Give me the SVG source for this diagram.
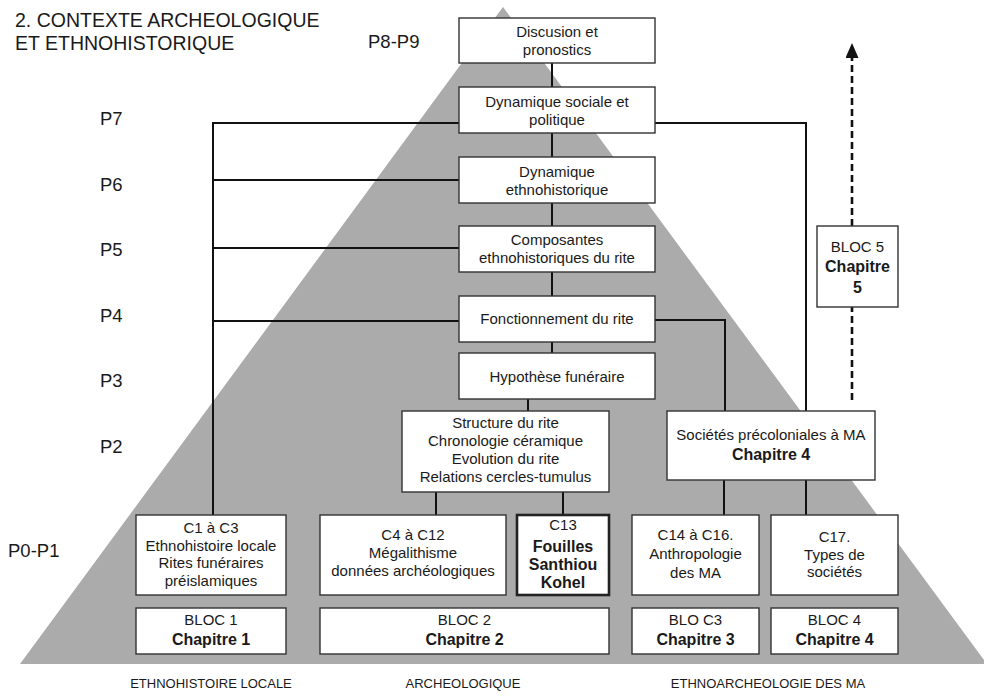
<svg xmlns="http://www.w3.org/2000/svg" width="984" height="697" viewBox="0 0 984 697">
  <style>
    .box { fill: #ffffff; stroke: #333333; stroke-width: 1.4; }
    .thick { stroke: #222222; stroke-width: 2.6; }
    .t { font-family: "Liberation Sans", Arial, sans-serif; font-size: 15px; fill: #1a1a1a; text-anchor: middle; }
    .b { font-family: "Liberation Sans", Arial, sans-serif; font-size: 16px; font-weight: bold; fill: #1a1a1a; text-anchor: middle; }
    .lvl { font-family: "Liberation Sans", Arial, sans-serif; font-size: 18.5px; fill: #1a1a1a; }
    .head { font-family: "Liberation Sans", Arial, sans-serif; font-size: 19.5px; fill: #1a1a1a; }
    .foot { font-family: "Liberation Sans", Arial, sans-serif; font-size: 13px; fill: #1a1a1a; text-anchor: middle; }
    .wire { fill: none; stroke: #111111; stroke-width: 2; }
    .dash { fill: none; stroke: #111111; stroke-width: 2.6; stroke-dasharray: 7 4; }
  </style>
  <defs>
    <marker id="arrowhead" markerWidth="15" markerHeight="13" refX="0" refY="6.5" orient="auto" markerUnits="userSpaceOnUse">
      <path d="M0,0 L15,6.5 L0,13 z" fill="#111111"/>
    </marker>
  </defs>

  <rect width="984" height="697" fill="#ffffff"/>

  <!-- pyramid background -->
  <polygon points="503,7 20,664 987,664" fill="#ababab"/>

  <!-- title -->
  <g id="title">
    <text class="head" x="15" y="27">2. CONTEXTE ARCHEOLOGIQUE</text>
    <text class="head" x="15" y="50">ET ETHNOHISTORIQUE</text>
  </g>

  <!-- level labels -->
  <g id="levels">
    <text class="lvl" x="368" y="48">P8-P9</text>
    <text class="lvl" x="100" y="125">P7</text>
    <text class="lvl" x="100" y="191">P6</text>
    <text class="lvl" x="100" y="256">P5</text>
    <text class="lvl" x="100" y="322">P4</text>
    <text class="lvl" x="100" y="387">P3</text>
    <text class="lvl" x="100" y="453">P2</text>
    <text class="lvl" x="8" y="557">P0-P1</text>
  </g>

  <!-- connectors -->
  <g id="connectors">
    <!-- central chain -->
    <line class="wire" x1="552" y1="63" x2="552" y2="87"/>
    <line class="wire" x1="552" y1="133" x2="552" y2="157"/>
    <line class="wire" x1="552" y1="203" x2="552" y2="226"/>
    <line class="wire" x1="552" y1="272" x2="552" y2="296"/>
    <line class="wire" x1="552" y1="342" x2="552" y2="353"/>
    <line class="wire" x1="528" y1="399" x2="528" y2="411"/>
    <!-- structure box to C boxes -->
    <line class="wire" x1="436" y1="492" x2="436" y2="515"/>
    <line class="wire" x1="563" y1="492" x2="563" y2="515"/>
    <!-- left bus -->
    <polyline class="wire" points="459,123 213,123 213,515"/>
    <line class="wire" x1="213" y1="180" x2="459" y2="180"/>
    <line class="wire" x1="213" y1="248" x2="459" y2="248"/>
    <line class="wire" x1="213" y1="321" x2="459" y2="321"/>
    <!-- right links to Sociétés précoloniales -->
    <polyline class="wire" points="655,123 806,123 806,411"/>
    <polyline class="wire" points="655,320 725,320 725,411"/>
    <line class="wire" x1="724" y1="480" x2="724" y2="515"/>
    <line class="wire" x1="806" y1="480" x2="806" y2="515"/>
    <!-- dashed upward arrow through BLOC 5 -->
    <line class="dash" x1="852" y1="400" x2="852" y2="307"/>
    <line class="dash" x1="852" y1="226" x2="852" y2="58" marker-end="url(#arrowhead)"/>
  </g>

  <!-- pyramid column nodes -->
  <g id="n-discusion">
    <rect class="box" x="459" y="18" width="196" height="45"/>
    <text class="t" x="557" y="37">Discusion et</text>
    <text class="t" x="557" y="55">pronostics</text>
  </g>
  <g id="n-dyn-sociale">
    <rect class="box" x="459" y="87" width="196" height="46"/>
    <text class="t" x="557" y="107">Dynamique sociale et</text>
    <text class="t" x="557" y="125">politique</text>
  </g>
  <g id="n-dyn-ethno">
    <rect class="box" x="459" y="157" width="196" height="46"/>
    <text class="t" x="557" y="177">Dynamique</text>
    <text class="t" x="557" y="195">ethnohistorique</text>
  </g>
  <g id="n-composantes">
    <rect class="box" x="459" y="226" width="196" height="46"/>
    <text class="t" x="557" y="245">Composantes</text>
    <text class="t" x="557" y="263">ethnohistoriques du rite</text>
  </g>
  <g id="n-fonctionnement">
    <rect class="box" x="459" y="296" width="196" height="46"/>
    <text class="t" x="557" y="324">Fonctionnement du rite</text>
  </g>
  <g id="n-hypothese">
    <rect class="box" x="459" y="353" width="196" height="46"/>
    <text class="t" x="557" y="382">Hypothèse funéraire</text>
  </g>
  <g id="n-structure">
    <rect class="box" x="402" y="411" width="207" height="81"/>
    <text class="t" x="505.5" y="428">Structure du rite</text>
    <text class="t" x="505.5" y="446">Chronologie céramique</text>
    <text class="t" x="505.5" y="464">Evolution du rite</text>
    <text class="t" x="505.5" y="482">Relations cercles-tumulus</text>
  </g>
  <g id="n-societes">
    <rect class="box" x="667" y="411" width="208" height="69"/>
    <text class="t" x="771" y="440">Sociétés précoloniales à MA</text>
    <text class="b" x="771" y="460">Chapitre 4</text>
  </g>
  <g id="n-bloc5">
    <rect class="box" x="817" y="226" width="81" height="81"/>
    <text class="t" x="857.5" y="252">BLOC 5</text>
    <text class="b" x="857.5" y="272">Chapitre</text>
    <text class="b" x="857.5" y="293">5</text>
  </g>

  <!-- chapter nodes -->
  <g id="n-c1">
    <rect class="box" x="136" y="515" width="150" height="80"/>
    <text class="t" x="211" y="533">C1 à C3</text>
    <text class="t" x="211" y="551">Ethnohistoire locale</text>
    <text class="t" x="211" y="568">Rites funéraires</text>
    <text class="t" x="211" y="586">préislamiques</text>
  </g>
  <g id="n-c4">
    <rect class="box" x="320" y="515" width="186" height="80"/>
    <text class="t" x="413" y="540">C4 à C12</text>
    <text class="t" x="413" y="558">Mégalithisme</text>
    <text class="t" x="413" y="576">données archéologiques</text>
  </g>
  <g id="n-c13">
    <rect class="box thick" x="517" y="515" width="92" height="80"/>
    <text class="t" x="563" y="530">C13</text>
    <text class="b" x="563" y="552">Fouilles</text>
    <text class="b" x="563" y="570">Santhiou</text>
    <text class="b" x="563" y="588">Kohel</text>
  </g>
  <g id="n-c14">
    <rect class="box" x="632" y="515" width="127" height="80"/>
    <text class="t" x="695.5" y="540">C14 à C16.</text>
    <text class="t" x="695.5" y="559">Anthropologie</text>
    <text class="t" x="695.5" y="578">des MA</text>
  </g>
  <g id="n-c17">
    <rect class="box" x="771" y="515" width="127" height="80"/>
    <text class="t" x="834.5" y="542">C17.</text>
    <text class="t" x="834.5" y="560">Types de</text>
    <text class="t" x="834.5" y="577">sociétés</text>
  </g>

  <!-- bloc nodes -->
  <g id="n-bloc1">
    <rect class="box" x="136" y="608" width="150" height="46"/>
    <text class="t" x="211" y="625">BLOC 1</text>
    <text class="b" x="211" y="645">Chapitre 1</text>
  </g>
  <g id="n-bloc2">
    <rect class="box" x="320" y="608" width="289" height="46"/>
    <text class="t" x="464.5" y="625">BLOC 2</text>
    <text class="b" x="464.5" y="645">Chapitre 2</text>
  </g>
  <g id="n-bloc3">
    <rect class="box" x="632" y="608" width="127" height="46"/>
    <text class="t" x="695.5" y="625">BLO C3</text>
    <text class="b" x="695.5" y="645">Chapitre 3</text>
  </g>
  <g id="n-bloc4">
    <rect class="box" x="771" y="608" width="127" height="46"/>
    <text class="t" x="834.5" y="625">BLOC 4</text>
    <text class="b" x="834.5" y="645">Chapitre 4</text>
  </g>

  <!-- column captions -->
  <g id="captions">
    <text class="foot" x="211" y="688">ETHNOHISTOIRE LOCALE</text>
    <text class="foot" x="463" y="688">ARCHEOLOGIQUE</text>
    <text class="foot" x="768" y="688">ETHNOARCHEOLOGIE DES MA</text>
  </g>
</svg>
